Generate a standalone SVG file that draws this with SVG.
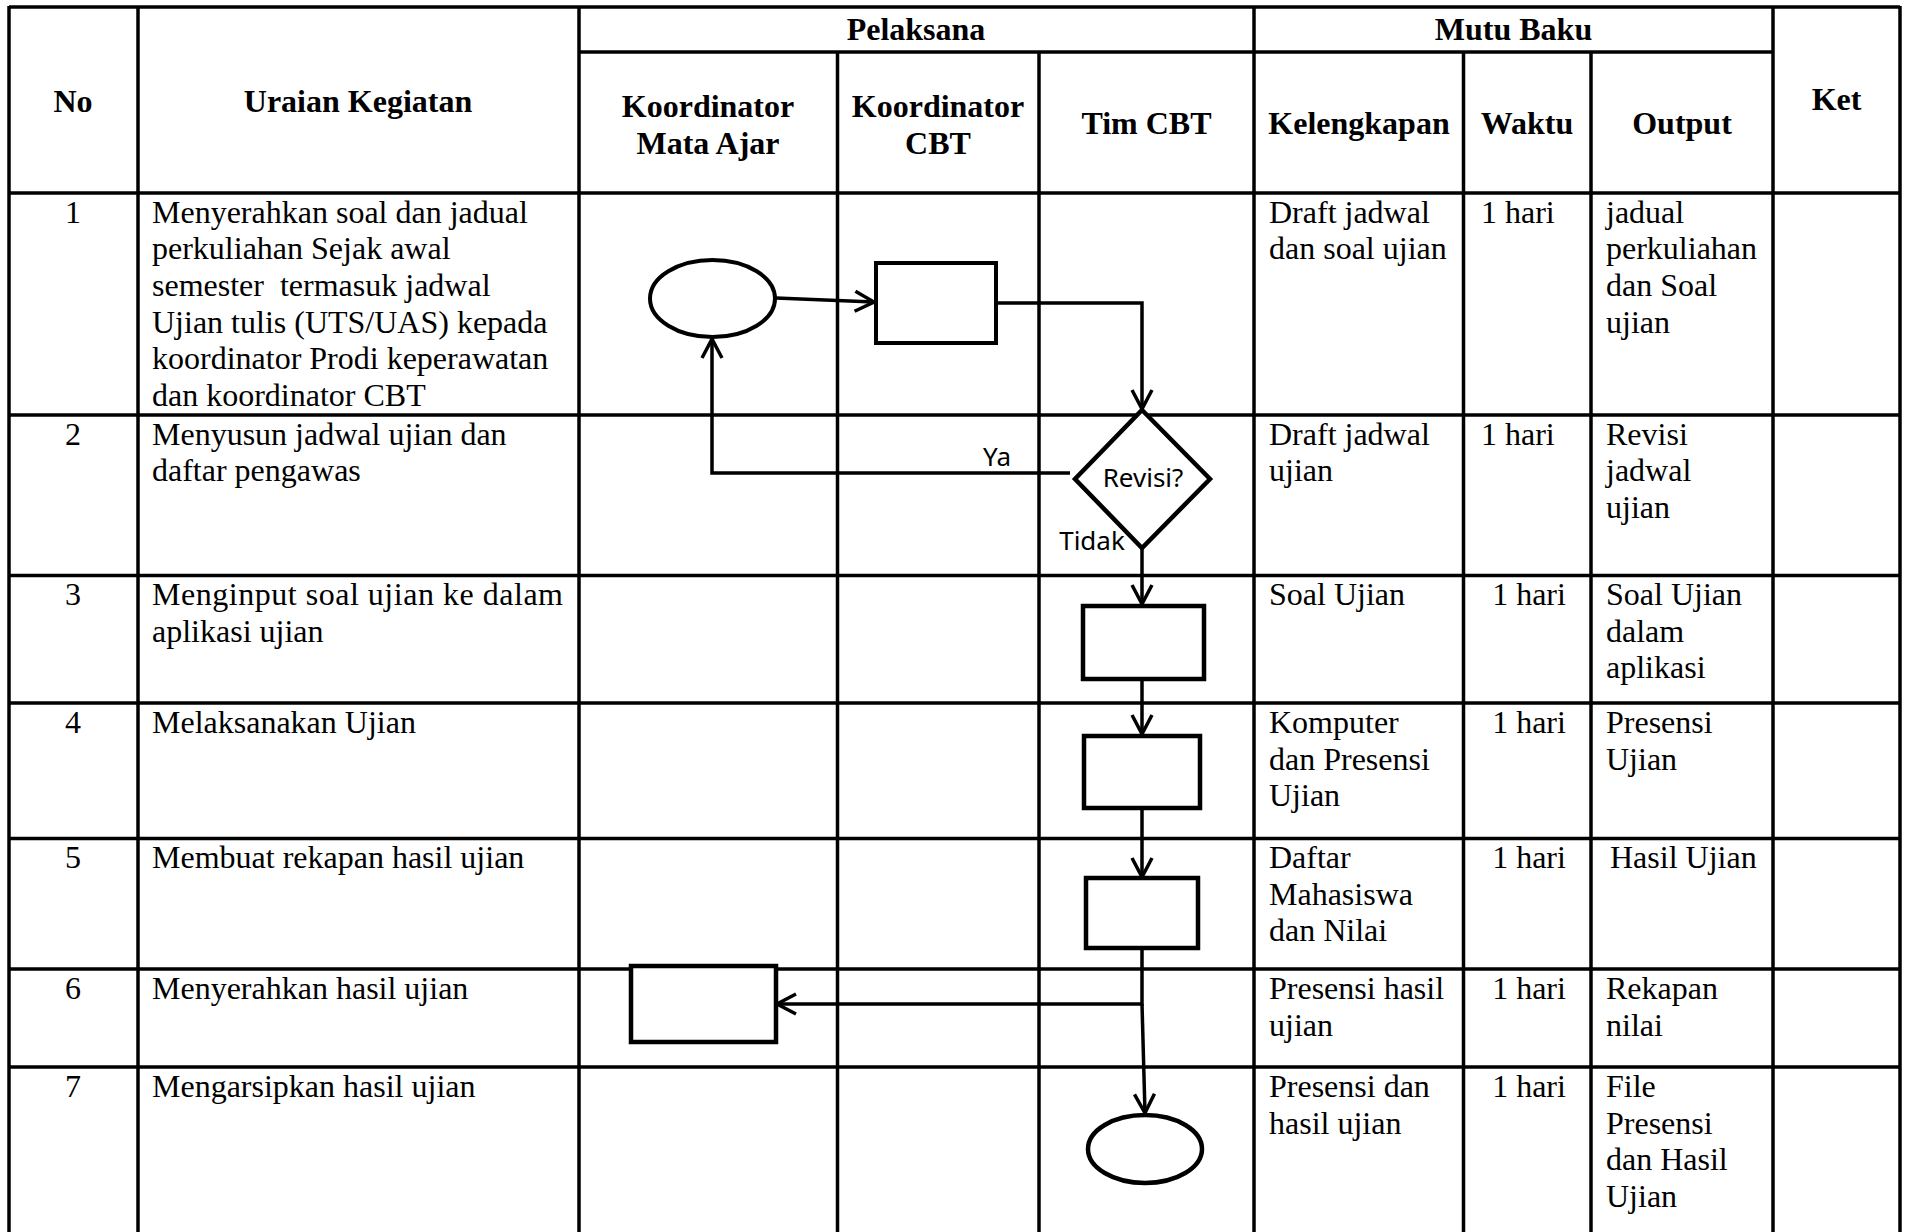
<svg xmlns="http://www.w3.org/2000/svg" width="1908" height="1232" viewBox="0 0 1908 1232">
<defs>
<style>
.grid line{stroke:#000;stroke-width:3.5}
.h{font-family:"Liberation Serif","Times New Roman",serif;font-weight:bold;font-size:32px;text-anchor:middle;fill:#000}
.b{font-family:"Liberation Serif","Times New Roman",serif;font-size:32px;fill:#000}
.c{text-anchor:middle}
.s{font-family:"Noto Sans","DejaVu Sans",sans-serif;font-size:26px;fill:#000}
.shape{fill:#fff;stroke:#000;stroke-width:4.5}
.conn path{fill:none;stroke:#000;stroke-width:3.5}
</style>
<marker id="arr" viewBox="-3 -3 26 26" refX="19" refY="10" markerWidth="26" markerHeight="26" markerUnits="userSpaceOnUse" orient="auto">
<path d="M0,0 L19,10 L0,20" fill="none" stroke="#000" stroke-width="3.5"/>
</marker>
</defs>
<rect width="1908" height="1232" fill="#fff"/>
<g id="table" class="grid">
<line x1="9" y1="7" x2="1900" y2="7"/>
<line x1="579" y1="52" x2="1773" y2="52"/>
<line x1="9" y1="193" x2="1900" y2="193"/>
<line x1="9" y1="415" x2="1900" y2="415"/>
<line x1="9" y1="575.5" x2="1900" y2="575.5"/>
<line x1="9" y1="703" x2="1900" y2="703"/>
<line x1="9" y1="838.5" x2="1900" y2="838.5"/>
<line x1="9" y1="969" x2="1900" y2="969"/>
<line x1="9" y1="1067" x2="1900" y2="1067"/>
<line x1="9" y1="6" x2="9" y2="1232"/>
<line x1="138" y1="6" x2="138" y2="1232"/>
<line x1="579" y1="6" x2="579" y2="1232"/>
<line x1="837.5" y1="52" x2="837.5" y2="1232"/>
<line x1="1039" y1="52" x2="1039" y2="1232"/>
<line x1="1254" y1="6" x2="1254" y2="1232"/>
<line x1="1463.5" y1="52" x2="1463.5" y2="1232"/>
<line x1="1591" y1="52" x2="1591" y2="1232"/>
<line x1="1773" y1="6" x2="1773" y2="1232"/>
<line x1="1900" y1="6" x2="1900" y2="1232"/>
</g>
<g id="header">
<text class="h" x="73" y="112">No</text>
<text class="h" x="358" y="112">Uraian Kegiatan</text>
<text class="h" x="916" y="40">Pelaksana</text>
<text class="h" x="1513.5" y="40">Mutu Baku</text>
<text class="h" x="708" y="117">Koordinator<tspan x="708" dy="36.5">Mata Ajar</tspan></text>
<text class="h" x="938" y="117">Koordinator<tspan x="938" dy="36.5">CBT</tspan></text>
<text class="h" x="1146.5" y="134">Tim CBT</text>
<text class="h" x="1359" y="134">Kelengkapan</text>
<text class="h" x="1527" y="134">Waktu</text>
<text class="h" x="1682" y="134">Output</text>
<text class="h" x="1836.5" y="110">Ket</text>
</g>
<g id="rows">
<g id="row1">
<text class="b c" x="73" y="222.5">1</text>
<text class="b" x="152" y="222.5">Menyerahkan soal dan jadual<tspan x="152" dy="36.7">perkuliahan Sejak awal</tspan><tspan x="152" dy="36.7" xml:space="preserve">semester  termasuk jadwal</tspan><tspan x="152" dy="36.7">Ujian tulis (UTS/UAS) kepada</tspan><tspan x="152" dy="36.7">koordinator Prodi keperawatan</tspan><tspan x="152" dy="36.7">dan koordinator CBT</tspan></text>
<text class="b" x="1269" y="222.5">Draft jadwal<tspan x="1269" dy="36.7">dan soal ujian</tspan></text>
<text class="b" x="1481" y="222.5">1 hari</text>
<text class="b" x="1606" y="222.5">jadual<tspan x="1606" dy="36.7">perkuliahan</tspan><tspan x="1606" dy="36.7">dan Soal</tspan><tspan x="1606" dy="36.7">ujian</tspan></text>
</g>
<g id="row2">
<text class="b c" x="73" y="444.5">2</text>
<text class="b" x="152" y="444.5">Menyusun jadwal ujian dan<tspan x="152" dy="36.7">daftar pengawas</tspan></text>
<text class="b" x="1269" y="444.5">Draft jadwal<tspan x="1269" dy="36.7">ujian</tspan></text>
<text class="b" x="1481" y="444.5">1 hari</text>
<text class="b" x="1606" y="444.5">Revisi<tspan x="1606" dy="36.7">jadwal</tspan><tspan x="1606" dy="36.7">ujian</tspan></text>
</g>
<g id="row3">
<text class="b c" x="73" y="605">3</text>
<text class="b" x="152" y="605" textLength="411" lengthAdjust="spacing">Menginput soal ujian ke dalam</text>
<text class="b" x="152" y="641.7">aplikasi ujian</text>
<text class="b" x="1269" y="605">Soal Ujian</text>
<text class="b c" x="1529" y="605">1 hari</text>
<text class="b" x="1606" y="605">Soal Ujian<tspan x="1606" dy="36.7">dalam</tspan><tspan x="1606" dy="36.7">aplikasi</tspan></text>
</g>
<g id="row4">
<text class="b c" x="73" y="733">4</text>
<text class="b" x="152" y="733">Melaksanakan Ujian</text>
<text class="b" x="1269" y="733">Komputer<tspan x="1269" dy="36.7">dan Presensi</tspan><tspan x="1269" dy="36.7">Ujian</tspan></text>
<text class="b c" x="1529" y="733">1 hari</text>
<text class="b" x="1606" y="733">Presensi<tspan x="1606" dy="36.7">Ujian</tspan></text>
</g>
<g id="row5">
<text class="b c" x="73" y="868">5</text>
<text class="b" x="152" y="868">Membuat rekapan hasil ujian</text>
<text class="b" x="1269" y="868">Daftar<tspan x="1269" dy="36.7">Mahasiswa</tspan><tspan x="1269" dy="36.7">dan Nilai</tspan></text>
<text class="b c" x="1529" y="868">1 hari</text>
<text class="b" x="1610" y="868">Hasil Ujian</text>
</g>
<g id="row6">
<text class="b c" x="73" y="999">6</text>
<text class="b" x="152" y="999">Menyerahkan hasil ujian</text>
<text class="b" x="1269" y="999">Presensi hasil<tspan x="1269" dy="36.7">ujian</tspan></text>
<text class="b c" x="1529" y="999">1 hari</text>
<text class="b" x="1606" y="999">Rekapan<tspan x="1606" dy="36.7">nilai</tspan></text>
</g>
<g id="row7">
<text class="b c" x="73" y="1097">7</text>
<text class="b" x="152" y="1097">Mengarsipkan hasil ujian</text>
<text class="b" x="1269" y="1097">Presensi dan<tspan x="1269" dy="36.7">hasil ujian</tspan></text>
<text class="b c" x="1529" y="1097">1 hari</text>
<text class="b" x="1606" y="1097">File<tspan x="1606" dy="36.7">Presensi</tspan><tspan x="1606" dy="36.7">dan Hasil</tspan><tspan x="1606" dy="36.7">Ujian</tspan></text>
</g>
</g>
<g id="connectors" class="conn">
<path d="M776,298 L874,302" marker-end="url(#arr)"/>
<path d="M997,303 H1142 V409" marker-end="url(#arr)"/>
<path d="M1070,473 H712 V339" marker-end="url(#arr)"/>
<path d="M1142,549 V604" marker-end="url(#arr)"/>
<path d="M1142,679 V734" marker-end="url(#arr)"/>
<path d="M1142,809 V877" marker-end="url(#arr)"/>
<path d="M1142,949 V1004 H777" marker-end="url(#arr)"/>
<path d="M1142,1004 L1145,1113" marker-end="url(#arr)"/>
<text class="s" x="997" y="466" text-anchor="middle">Ya</text>
<text class="s" x="1092" y="550" text-anchor="middle">Tidak</text>
</g>
<g id="start"><ellipse class="shape" cx="712.5" cy="298.5" rx="62.5" ry="38.5" style="stroke-width:4"/></g>
<g id="step1"><rect class="shape" x="876" y="263" width="120" height="80" style="stroke-width:4"/></g>
<g id="decision"><polygon class="shape" points="1142,410 1210,479 1142,548 1075,479"/><text class="s" x="1143" y="487" text-anchor="middle">Revisi?</text></g>
<g id="step3"><rect class="shape" x="1083" y="606" width="121" height="73"/></g>
<g id="step4"><rect class="shape" x="1084" y="736" width="116" height="72"/></g>
<g id="step5"><rect class="shape" x="1086" y="878" width="112" height="70"/></g>
<g id="step6"><rect class="shape" x="631" y="966" width="145" height="76"/></g>
<g id="end"><ellipse class="shape" cx="1145" cy="1149" rx="57" ry="34"/></g>
</svg>
